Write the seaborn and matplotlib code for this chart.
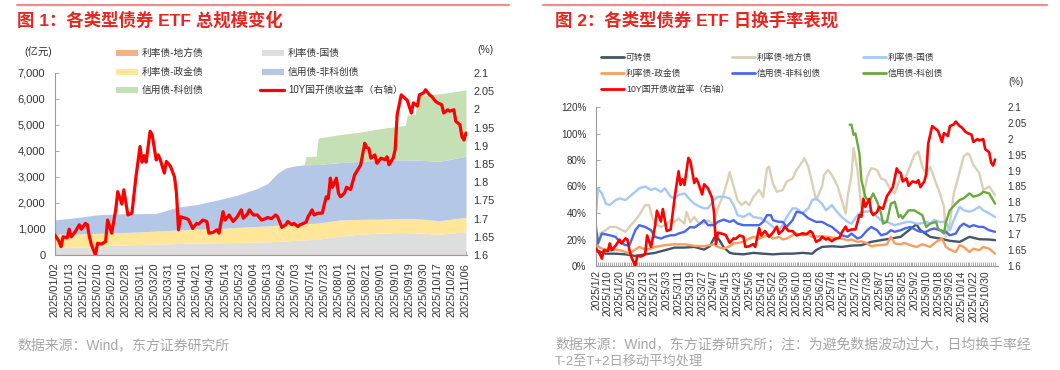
import numpy as np
import pandas as pd
import matplotlib
matplotlib.use('Agg')
import matplotlib.pyplot as plt
import seaborn as sns
from matplotlib.lines import Line2D
from matplotlib.patches import Rectangle

# ---------------- 交易日历 2025/01/02 - 2025/11/06 ----------------
HOLIDAYS = ['2025-01-28', '2025-01-29', '2025-01-30', '2025-01-31', '2025-02-03', '2025-02-04',
            '2025-04-04', '2025-05-01', '2025-05-02', '2025-05-05', '2025-06-02',
            '2025-10-01', '2025-10-02', '2025-10-03', '2025-10-06', '2025-10-07', '2025-10-08']
dates = pd.bdate_range('2025-01-02', '2025-11-06')
dates = dates[~dates.isin(pd.to_datetime(HOLIDAYS))]
n_days = len(dates)

# ---------------- 10Y国开债收益率 (%), 交易日序号 ----------------
YIELD_DAY = [0, 2, 3, 4, 6, 7, 8, 10, 12, 13,
             15, 16, 17, 18, 20, 21, 23, 25, 26, 28,
             30, 31, 33, 34, 36, 38, 40, 42, 43, 44,
             45, 47, 48, 50, 51, 52, 54, 55, 57, 59,
             60, 61, 62, 65, 66, 68, 70, 71, 73, 75,
             76, 78, 80, 81, 83, 84, 86, 88, 90, 92,
             93, 95, 96, 98, 100, 102, 104, 105, 107, 109,
             110, 112, 114, 115, 117, 118, 120, 121, 124, 125,
             127, 128, 130, 132, 134, 135, 136, 137, 139, 140,
             141, 143, 144, 146, 148, 149, 151, 153, 154, 155,
             156, 158, 159, 161, 163, 164, 165, 167, 168, 169,
             171, 173, 174, 176, 177, 179, 180, 182, 183, 185,
             186, 188, 189, 191, 192, 194, 195, 197, 198, 200,
             201, 202, 203]
YIELD = [1.655, 1.637, 1.623, 1.650, 1.647, 1.671, 1.650, 1.664, 1.683, 1.671,
         1.687, 1.683, 1.650, 1.628, 1.600, 1.632, 1.630, 1.637, 1.696, 1.660,
         1.724, 1.774, 1.740, 1.779, 1.710, 1.715, 1.815, 1.898, 1.855, 1.873,
         1.855, 1.940, 1.930, 1.861, 1.875, 1.862, 1.825, 1.857, 1.844, 1.815,
         1.770, 1.669, 1.705, 1.700, 1.697, 1.673, 1.687, 1.685, 1.696, 1.692,
         1.660, 1.662, 1.669, 1.660, 1.719, 1.696, 1.710, 1.692, 1.705, 1.724,
         1.701, 1.712, 1.724, 1.710, 1.710, 1.696, 1.700, 1.703, 1.700, 1.710,
         1.705, 1.676, 1.683, 1.692, 1.683, 1.687, 1.678, 1.683, 1.690, 1.705,
         1.724, 1.710, 1.715, 1.715, 1.760, 1.755, 1.811, 1.786, 1.811, 1.770,
         1.760, 1.770, 1.786, 1.780, 1.820, 1.829, 1.848, 1.907, 1.895, 1.893,
         1.866, 1.875, 1.852, 1.866, 1.862, 1.870, 1.848, 1.866, 1.889, 1.985,
         2.040, 2.030, 2.025, 1.990, 2.018, 2.009, 2.040, 2.045, 2.054, 2.040,
         2.036, 2.022, 2.018, 2.013, 1.990, 1.999, 1.995, 1.999, 1.967, 1.958,
         1.925, 1.916, 1.935]

# ---------------- 图1: 各类型债券ETF规模 (亿元) ----------------
AREA_DAY = [0, 10, 20, 30, 40, 50, 60, 70, 80, 90, 100, 105, 110, 114, 118,
            123, 124, 129, 130, 140, 150, 160, 170, 173, 174, 178, 179, 190, 203]
AMT_LG = [25] * 29
AMT_TB = [265, 275, 305, 355, 375, 395, 415, 435, 445, 455, 475, 485, 495, 515, 535,
          555, 555, 575, 580, 695, 775, 815, 835, 835, 835, 825, 823, 775, 875]
AMT_PB = [510, 510, 500, 480, 480, 500, 520, 530, 540, 580, 600, 610, 630, 625, 620,
          620, 625, 625, 625, 620, 570, 540, 540, 540, 540, 550, 547, 520, 550]
AMT_NK = [550, 620, 710, 720, 710, 680, 870, 950, 1100, 1240, 1460, 1630, 2000, 2185, 2240,
          2270, 2265, 2255, 2250, 2210, 2230, 2270, 2260, 2260, 2260, 2250, 2255, 2280, 2350]
AMT_KC = [0, 0, 0, 0, 0, 0, 0, 0, 0, 0, 0, 0, 0, 0, 0,
          0, 310, 320, 1020, 1070, 1120, 1200, 1300, 1330, 1720, 1760, 2470, 2600, 2550]

# ---------------- 图2: 日换手率 (%) ----------------
CB_DAY = [0, 5, 10, 15, 20, 25, 30, 35, 40, 45, 50, 55, 58, 60, 61, 63, 65, 68, 70, 75,
          80, 85, 90, 95, 100, 105, 110, 112, 115, 120, 125, 130, 135, 140, 145, 150, 155, 160, 163, 165,
          170, 175, 180, 185, 190, 195, 200, 203]
CB = [11.9, 9.3, 9.3, 8.8, 7.6, 8.8, 9.9, 11.9, 13.9, 13.9, 14.4, 12.4, 15, 21, 23, 19, 14, 10, 9.3, 8.8,
      9.9, 9.3, 8.8, 9.3, 9.3, 9.9, 9.3, 12, 14.4, 14.9, 14.4, 15.4, 15.7, 18.2, 19.5, 20.7, 22, 28, 31.5, 27,
      22, 20.7, 19, 18.2, 22, 20.2, 20, 19.5]

LG_DAY = [0, 2, 5, 7, 10, 12, 15, 17, 20, 22, 25, 27, 28, 30, 33, 35, 38, 40, 42, 45,
          46, 48, 50, 52, 55, 57, 59, 60, 62, 65, 67, 68, 70, 72, 74, 76, 78, 80, 83, 85,
          87, 88, 90, 92, 95, 97, 100, 102, 105, 106, 108, 110, 112, 115, 116, 118, 120, 123, 125, 127,
          128, 130, 131, 133, 135, 138, 140, 143, 145, 147, 150, 152, 155, 157, 160, 162, 164, 166, 168, 170,
          173, 175, 177, 178, 180, 182, 185, 187, 189, 190, 192, 195, 197, 200, 203]
LG = [9, 24.5, 27, 29.5, 29.5, 28, 25.8, 29.5, 34.6, 38.4, 46, 46, 39.7, 32, 29.5, 30.8, 34.6, 33.3, 35.9, 32,
      41, 33, 37, 33, 32, 34.6, 32, 33.3, 43.5, 54.8, 65, 71, 60, 49.8, 46, 48.5, 46, 52, 57.4, 52,
      73.8, 75, 62.4, 56, 57.4, 63.7, 66, 72.5, 78.8, 81.4, 75, 62.4, 49.8, 60, 68.7, 72.5, 68.7, 60, 49.8, 39.7,
      52.3, 68.7, 89, 72.5, 43.5, 67.5, 73.8, 72.5, 66, 65, 57.4, 54.8, 67.5, 65, 76.3, 83.9, 86.4, 75, 68.7, 75,
      62.4, 54.8, 44.7, 22, 32, 54.8, 71, 82.6, 85, 83.9, 76.3, 70, 57.4, 60, 53.6]

TB_DAY = [0, 1, 3, 5, 7, 10, 12, 15, 17, 20, 22, 25, 28, 30, 33, 35, 38, 40, 42, 45,
          48, 50, 53, 55, 57, 60, 62, 65, 68, 70, 72, 75, 78, 80, 84, 85, 87, 90, 93, 95,
          97, 100, 102, 105, 108, 110, 112, 115, 117, 120, 122, 125, 128, 130, 133, 135, 138, 140, 143, 145,
          148, 150, 152, 155, 158, 160, 163, 165, 168, 170, 172, 175, 178, 180, 182, 185, 187, 190, 192, 195,
          197, 200, 203]
TB = [39.7, 58.6, 54.8, 47, 46, 49.8, 51, 49.8, 52.3, 56, 58.6, 60, 57.4, 58.6, 56, 58.6, 52.3, 51, 53.6, 54.8,
      49.8, 47, 44.7, 43.5, 43.5, 49.8, 52.3, 52.3, 51, 46, 38.4, 37, 39.7, 37, 36, 34.6, 33.3, 29.5, 27, 30.8,
      37, 43.5, 43.5, 39.7, 43.5, 49.8, 51, 47, 42, 46, 42, 37, 33.3, 32, 38.4, 41, 41, 42, 37, 34.6,
      33.3, 32, 30.8, 32, 33.3, 33.3, 32, 32, 33.3, 32, 34.6, 33.3, 33.3, 27, 34.6, 44.7, 42, 41, 42, 44.7,
      42, 39.7, 37]

PB_DAY = [0, 3, 7, 10, 12, 15, 17, 20, 22, 25, 28, 30, 35, 40, 45, 50, 55, 60, 62, 65,
          68, 70, 72, 75, 78, 80, 83, 85, 88, 90, 93, 95, 97, 100, 102, 105, 108, 110, 115, 120,
          125, 128, 130, 133, 135, 138, 140, 143, 145, 148, 150, 152, 155, 157, 160, 163, 166, 170, 173, 176,
          178, 180, 183, 185, 187, 190, 192, 195, 197, 200, 203]
PB = [15.7, 13.1, 11.9, 12.4, 11.9, 10.6, 9.3, 12.4, 14.4, 12.4, 13.1, 14.4, 15.7, 16.4, 16.4, 15.2, 14.9, 16.4, 14.4, 13.1,
      14.9, 17, 17.4, 18.2, 20.7, 22, 20.7, 22, 23.2, 20.7, 22, 20, 20.7, 23.2, 24.5, 23.2, 24, 22, 22.5, 21.5,
      20.7, 19.5, 20, 18.2, 18.7, 17, 14.9, 15.7, 15.7, 16.4, 22, 17, 16.4, 17.4, 15.7, 14.4, 16.4, 14.4, 18.2, 20.7,
      14.4, 12.4, 10.6, 15.7, 14.4, 10.6, 13.1, 11.9, 14.4, 13.1, 9.3]

NK_DAY = [0, 1, 3, 7, 10, 12, 15, 17, 20, 22, 25, 28, 30, 33, 35, 38, 40, 42, 45, 48,
          50, 53, 55, 57, 60, 62, 65, 68, 70, 72, 75, 78, 80, 83, 85, 87, 89, 90, 93, 95,
          97, 100, 102, 105, 108, 110, 112, 115, 118, 120, 122, 125, 128, 130, 133, 135, 138, 140, 143, 145,
          148, 150, 152, 155, 157, 160, 163, 165, 168, 170, 172, 175, 178, 180, 183, 185, 187, 190, 192, 195,
          197, 200, 203]
NK = [29.5, 17, 24.5, 23.2, 22, 18.2, 15.7, 15.7, 27, 30.8, 29.5, 27, 22, 20.7, 22, 23.2, 23.2, 24.5, 25.8, 29.5,
      29, 32, 34.6, 30.8, 30.8, 33.3, 35, 33.3, 34.6, 32, 30.8, 30.8, 30.8, 30.8, 33.3, 38.4, 38.4, 34.6, 33.3, 33.3,
      29.5, 34.6, 41, 40, 36, 34.6, 33.3, 33.3, 30.8, 29.5, 27, 23.2, 22, 24.5, 20.7, 22, 27, 29.5, 27, 23.2,
      24.5, 27, 25.8, 27, 28.3, 29.5, 27, 25.8, 25.8, 27.5, 28.3, 27, 25.8, 23.2, 24.5, 29.5, 32, 29.5, 30.8, 29.5,
      29.5, 27, 25.8]

KC_DAY = [129, 130, 131, 132, 134, 135, 137, 139, 141, 143, 145, 146, 148, 150, 152, 154, 155, 156, 159, 162,
          163, 166, 168, 170, 173, 174, 177, 178, 180, 183, 185, 187, 190, 192, 195, 197, 200, 203]
KC = [106.6, 106.6, 99, 100, 85, 65, 52.3, 48.5, 54.8, 48.5, 39.7, 32, 33.3, 47, 48.5, 37, 38.4, 36, 42, 42,
      41, 38.4, 29.5, 32, 33.3, 28.3, 24.5, 33.3, 42, 47, 49.8, 51, 54.8, 52.3, 53.6, 56, 54.8, 47]

LEFT_NAMES = ['利率债-地方债', '利率债-国债', '利率债-政金债', '信用债-非科创债', '信用债-科创债']
LEFT_COLORS = ['#F4B183', '#DEDEDE', '#FFE699', '#B4C7E7', '#C5E0B4']
RIGHT_NAMES = ['可转债', '利率债-地方债', '利率债-国债', '利率债-政金债', '信用债-非科创债', '信用债-科创债']
RIGHT_COLORS = ['#44546A', '#DCCFB4', '#A4C8FA', '#F99D5E', '#4A67F0', '#6AAA3C']
YIELD_NAME = '10Y国开债收益率（右轴）'
RED = '#FF0000'

# ---------------- 样式 ----------------
sns.set_theme(style='white')
plt.rcParams['font.family'] = ['Liberation Sans', 'Noto Sans CJK SC', 'DejaVu Sans']
plt.rcParams['axes.unicode_minus'] = False

W, H = 1060, 370
def fx(px):
    return px / W
def fy(py):
    return 1 - py / H

TXT = '#333333'
GRID = '#9A9A9A'

fig = plt.figure(figsize=(W / 100, H / 100), dpi=100)

# 顶部红线 + 标题 + 来源
for x0, x1 in [(17, 509), (543, 1047)]:
    fig.add_artist(Line2D([fx(x0), fx(x1)], [fy(5), fy(5)], color='#F28B8B', lw=1.6))
fig.text(fx(17), fy(20), '图 1：各类型债券 ETF 总规模变化', color='#E8251E', fontsize=12.5,
         fontweight='bold', va='center')
fig.text(fx(555), fy(20), '图 2：各类型债券 ETF 日换手率表现', color='#E8251E', fontsize=12.5,
         fontweight='bold', va='center')
fig.text(fx(17), fy(345), '数据来源：Wind，东方证券研究所', color='#A6A6A6', fontsize=10, va='center')
fig.text(fx(555), fy(345), '数据来源：Wind，东方证券研究所；注：为避免数据波动过大，日均换手率经',
         color='#A6A6A6', fontsize=10, va='center')
fig.text(fx(555), fy(361), 'T-2至T+2日移动平均处理', color='#A6A6A6', fontsize=9.5, va='center')


def style_axes(ax, date_labels, step, xmax, label_size, pad):
    for s in ['top', 'right']:
        ax.spines[s].set_visible(False)
    for s in ['left', 'bottom']:
        ax.spines[s].set_color(GRID)
        ax.spines[s].set_linewidth(0.8)
    ax.set_xlim(0, xmax)
    ax.set_xticks(range(0, n_days, step))
    ax.set_xticklabels(date_labels, rotation=90)
    ax.set_xticks(range(n_days), minor=True)
    ax.tick_params(axis='x', which='both', bottom=True, direction='in', length=3,
                   width=0.6, color=GRID)
    ax.tick_params(axis='x', which='major', labelsize=label_size, labelcolor=TXT, pad=pad)
    ax.tick_params(axis='y', left=True, direction='in', length=3, width=0.6, color=GRID,
                   labelcolor=TXT)


def style_twin(axr, size, pad):
    for s in axr.spines.values():
        s.set_visible(False)
    axr.set_ylim(1.6, 2.1)
    ticks = np.round(np.arange(1.6, 2.101, 0.05), 2)
    axr.set_yticks(ticks)
    axr.set_yticklabels([f'{t:g}' for t in ticks])
    axr.tick_params(axis='y', right=True, length=0, labelsize=size, labelcolor=TXT, pad=pad)
    axr.set_ylabel('')


# ---------------- 图1 ----------------
ax1 = fig.add_axes([fx(55), fy(255), (467 - 55) / W, (255 - 73) / H])
ax1.stackplot(AREA_DAY, AMT_LG, AMT_TB, AMT_PB, AMT_NK, AMT_KC, colors=LEFT_COLORS, linewidth=0)
ax1.set_ylim(0, 7000)
ax1.set_yticks(range(0, 7001, 1000))
ax1.set_yticklabels([f'{v:,}' for v in range(0, 7001, 1000)])
style_axes(ax1, [d.strftime('%Y/%m/%d') for d in dates[::7]], 7, 203.5, 7.9, 5.5)
ax1.tick_params(axis='y', labelsize=8, pad=7)

ax1r = ax1.twinx()
sns.lineplot(x=YIELD_DAY, y=YIELD, ax=ax1r, color=RED, lw=2.3)
style_twin(ax1r, 7.8, 4.5)

fig.text(fx(38), fy(52), '(亿元)', fontsize=7.5, color=TXT, ha='center', va='center')
fig.text(fx(486), fy(50), '(%)', fontsize=7.5, color=TXT, ha='center', va='center')

# 图1 图例
left_items = [(116, 53, 0), (262, 53, 1), (116, 72, 2), (262, 72, 3), (116, 90, 4)]
for x0, y0, i in left_items:
    fig.add_artist(Rectangle((fx(x0), fy(y0 + 3)), 22 / W, 6 / H, color=LEFT_COLORS[i], lw=0))
    fig.text(fx(x0 + 26), fy(y0), LEFT_NAMES[i], fontsize=7, color=TXT, va='center')
fig.add_artist(Line2D([fx(260), fx(284)], [fy(90), fy(90)], color=RED, lw=2.3))
fig.text(fx(288), fy(90), YIELD_NAME, fontsize=7, color=TXT, va='center')

# ---------------- 图2 ----------------
ax2 = fig.add_axes([fx(596), fy(266), (998 - 596) / W, (266 - 107) / H])
right_series = [(CB_DAY, CB), (LG_DAY, LG), (TB_DAY, TB), (PB_DAY, PB), (NK_DAY, NK), (KC_DAY, KC)]
for (days, vals), color in zip(right_series, RIGHT_COLORS):
    sns.lineplot(x=days, y=vals, ax=ax2, color=color, lw=1.7)
ax2.set_ylim(0, 120)
ax2.set_yticks(range(0, 121, 20))
ax2.set_yticklabels([f'{v}%' for v in range(0, 121, 20)])
style_axes(ax2, [f'{d.year}/{d.month}/{d.day}' for d in dates[::6]], 6, 204.5, 7.4, 3)
ax2.tick_params(axis='y', labelsize=7.1, pad=7)

ax2r = ax2.twinx()
sns.lineplot(x=YIELD_DAY, y=YIELD, ax=ax2r, color=RED, lw=1.9)
style_twin(ax2r, 7.1, 7)

fig.text(fx(1016), fy(82), '(%)', fontsize=7, color=TXT, ha='center', va='center')

# 图2 图例
right_items = [(601, 57, 0), (732, 57, 1), (863, 57, 2),
               (601, 73, 3), (732, 73, 4), (863, 73, 5)]
for x0, y0, i in right_items:
    fig.add_artist(Line2D([fx(x0), fx(x0 + 23)], [fy(y0), fy(y0)], color=RIGHT_COLORS[i], lw=2))
    fig.text(fx(x0 + 25), fy(y0), RIGHT_NAMES[i], fontsize=6.3, color=TXT, va='center')
fig.add_artist(Line2D([fx(601), fx(624)], [fy(89), fy(89)], color=RED, lw=2))
fig.text(fx(626), fy(89), YIELD_NAME, fontsize=6.3, color=TXT, va='center')

fig.savefig('out.png', dpi=100)
